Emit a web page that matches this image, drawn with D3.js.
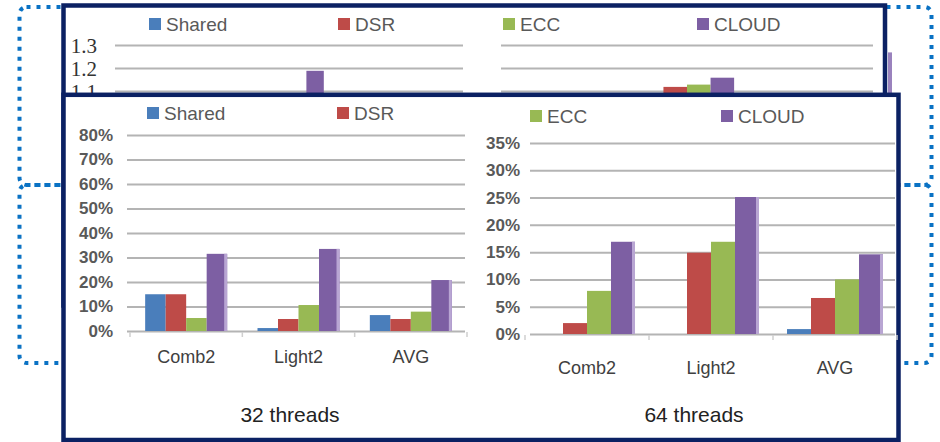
<!DOCTYPE html>
<html><head><meta charset="utf-8">
<script src="https://cdn.jsdelivr.net/npm/d3@7"></script>
<style>html,body{margin:0;padding:0;background:#fff;overflow:hidden}svg{display:block}</style>
</head><body>
<script>
// ---- data ----
const categories = ["Comb2", "Light2", "AVG"];
const seriesNames = ["Shared", "DSR", "ECC", "CLOUD"];
const seriesColors = ["#4a7ebb", "#be4b48", "#98b954", "#7d5fa3"];

// overhead in %, 32 threads
const shared32 = [15, 1.2, 6.5];
const dsr32 = [15, 4.9, 4.9];
const ecc32 = [5.3, 10.6, 7.9];
const cloud32 = [31.5, 33.5, 20.8];
// overhead in %, 64 threads
const shared64 = [0, 0, 0.9];
const dsr64 = [2, 14.9, 6.6];
const ecc64 = [7.9, 16.9, 10];
const cloud64 = [16.9, 25.1, 14.6];

const ticks32 = [0, 10, 20, 30, 40, 50, 60, 70, 80];
const ticks64 = [0, 5, 10, 15, 20, 25, 30, 35];
const panelTitles = ["32 threads", "64 threads"];

// slide underneath: normalized chart, only its top part shows
const backTicks = [1.1, 1.2, 1.3];
const backLeftCloud = [null, 1.19, null];
const backRightDsr = [null, 1.12, null];
const backRightEcc = [null, 1.13, null];
const backRightCloud = [null, 1.16, null];
const backEdgeCloud = [1.27];

// ---- drawing ----
const W = 940, H = 442;
const NAVY = "#0b2163", DOT = "#0a72c4", GRID = "#b4b4b4", TXT = "#595959";
const svg = d3.select("body").append("svg").attr("width", W).attr("height", H);

// dotted callout frames
function dotted(x0, y0, x1, y1) {
  svg.append("rect")
    .attr("x", x0).attr("y", y0).attr("width", x1 - x0).attr("height", y1 - y0)
    .attr("rx", 7).attr("fill", "none")
    .attr("stroke", DOT).attr("stroke-width", 4).attr("stroke-dasharray", "4 6");
}
dotted(19.5, 7, 931.5, 185);
dotted(19.5, 185, 931.5, 363);

function legend(g, items) {
  items.forEach(it => {
    g.append("rect").attr("x", it.x).attr("y", it.y - 6).attr("width", 12).attr("height", 12)
      .attr("fill", it.color);
    g.append("text").attr("x", it.x + 17).attr("y", it.y)
      .attr("dominant-baseline", "central")
      .attr("font-family", "Liberation Sans, Arial, sans-serif").attr("font-size", 19)
      .attr("fill", TXT).text(it.name);
  });
}

// ---------- back panel ----------
const back = svg.append("g");
back.append("rect").attr("x", 63.5).attr("y", 5.5).attr("width", 821.5).attr("height", 300)
  .attr("fill", "#fff").attr("stroke", NAVY).attr("stroke-width", 4.5);

// a sliver of another chart peeking out on the right
const yBack = d3.scaleLinear().domain([1.1, 1.3]).range([91.5, 45.5]);
back.selectAll("rect.edge").data(backEdgeCloud).join("rect").attr("class", "edge")
  .attr("x", 888).attr("width", 4).attr("y", d => yBack(d)).attr("height", d => yBack(1.0) - yBack(d))
  .attr("fill", "#9a82bd");

legend(back, [
  {x: 149, y: 24, name: seriesNames[0], color: seriesColors[0]},
  {x: 338, y: 24, name: seriesNames[1], color: seriesColors[1]},
  {x: 503, y: 24, name: seriesNames[2], color: seriesColors[2]},
  {x: 697, y: 24, name: seriesNames[3], color: seriesColors[3]}
]);

function backChart(x0, x1, pad, seriesVals, withLabels) {
  const g = back.append("g");
  g.selectAll("line").data(backTicks).join("line")
    .attr("x1", x0).attr("x2", x1).attr("y1", d => yBack(d)).attr("y2", d => yBack(d))
    .attr("stroke", GRID).attr("stroke-width", 2);
  if (withLabels) {
    g.selectAll("text").data(backTicks).join("text")
      .attr("x", 97).attr("y", d => yBack(d)).attr("text-anchor", "end")
      .attr("dominant-baseline", "central")
      .attr("font-family", "Liberation Serif, serif").attr("font-size", 21)
      .attr("fill", "#333").text(d => d.toFixed(1));
  }
  const xb = d3.scaleBand().domain(categories).range([x0, x1]).paddingInner(pad).paddingOuter(pad / 2);
  const xs = d3.scaleBand().domain(seriesNames).range([0, xb.bandwidth()]);
  seriesVals.forEach(sv => {
    g.append("g").selectAll("rect").data(sv.vals.map((v, i) => ({c: categories[i], v})).filter(d => d.v != null))
      .join("rect")
      .attr("x", d => xb(d.c) + xs(sv.name)).attr("width", xs.bandwidth())
      .attr("y", d => yBack(d.v)).attr("height", d => yBack(1.0) - yBack(d.v))
      .attr("fill", seriesColors[seriesNames.indexOf(sv.name)]);
  });
}
backChart(115, 463, 0.4, [{name: "CLOUD", vals: backLeftCloud}], true);
backChart(501, 873, 0.24, [
  {name: "DSR", vals: backRightDsr},
  {name: "ECC", vals: backRightEcc},
  {name: "CLOUD", vals: backRightCloud}
], false);

// ---------- front panel ----------
const front = svg.append("g");
front.append("rect").attr("x", 63.5).attr("y", 94.8).attr("width", 835).attr("height", 345.2)
  .attr("fill", "#fff").attr("stroke", NAVY).attr("stroke-width", 4.5);

legend(front, [
  {x: 147, y: 113, name: seriesNames[0], color: seriesColors[0]},
  {x: 337, y: 113, name: seriesNames[1], color: seriesColors[1]},
  {x: 530, y: 116, name: seriesNames[2], color: seriesColors[2]},
  {x: 721, y: 116, name: seriesNames[3], color: seriesColors[3]}
]);

function barChart(opt) {
  const g = front.append("g");
  const y = d3.scaleLinear().domain([0, opt.max]).range([opt.y0, opt.y1]);
  const yAxis = d3.axisLeft(y).tickValues(opt.ticks).tickSize(-(opt.gx1 - opt.gx0))
    .tickPadding(opt.labelPad).tickFormat(d => d + "%");
  const ax = g.append("g").attr("transform", `translate(${opt.gx0},0)`).call(yAxis);
  ax.select(".domain").remove();
  ax.selectAll(".tick line").attr("stroke", GRID).attr("stroke-width", 2);
  ax.selectAll(".tick text").attr("font-family", "Liberation Sans, Arial, sans-serif")
    .attr("font-size", 17).attr("font-weight", "bold").attr("fill", TXT);

  const xb = d3.scaleBand().domain(categories).range([opt.bx0, opt.bx1])
    .paddingInner(opt.pad).paddingOuter(opt.pad / 2);
  const xs = d3.scaleBand().domain(seriesNames).range([0, xb.bandwidth()]);

  // small category ticks below the baseline
  const edges = categories.map(c => xb(c) - xb.step() * opt.pad / 2).concat([opt.bx1]);
  g.selectAll("line.ct").data(edges).join("line").attr("class", "ct")
    .attr("x1", d => d).attr("x2", d => d).attr("y1", opt.y0 + 1).attr("y2", opt.y0 + 6)
    .attr("stroke", "#cfcfcf").attr("stroke-width", 1.5);

  opt.series.forEach((vals, si) => {
    const name = seriesNames[si];
    const rows = vals.map((v, i) => ({c: categories[i], v})).filter(d => d.v > 0);
    g.append("g").selectAll("rect").data(rows).join("rect")
      .attr("x", d => xb(d.c) + xs(name)).attr("width", xs.bandwidth())
      .attr("y", d => y(d.v)).attr("height", d => y(0) - y(d.v))
      .attr("fill", seriesColors[si]);
    if (name === "CLOUD") {
      g.append("g").selectAll("rect").data(rows).join("rect")
        .attr("x", d => xb(d.c) + xs(name) + xs.bandwidth() - 3).attr("width", 3)
        .attr("y", d => y(d.v)).attr("height", d => y(0) - y(d.v))
        .attr("fill", "#b9a6d3");
    }
  });

  g.selectAll("text.cat").data(categories).join("text").attr("class", "cat")
    .attr("x", d => xb(d) + xb.bandwidth() / 2).attr("y", opt.catY)
    .attr("text-anchor", "middle").attr("dominant-baseline", "central")
    .attr("font-family", "Liberation Sans, Arial, sans-serif").attr("font-size", 18)
    .attr("fill", "#404040").text(d => d);

  g.append("text").attr("x", opt.titleX).attr("y", 414)
    .attr("text-anchor", "middle").attr("dominant-baseline", "central")
    .attr("font-family", "Liberation Sans, Arial, sans-serif").attr("font-size", 21)
    .attr("fill", "#222").text(opt.title);
}

barChart({
  max: 80, ticks: ticks32, y0: 331, y1: 135, gx0: 127, gx1: 465, labelPad: 14,
  bx0: 130, bx1: 467, pad: 0.27,
  series: [shared32, dsr32, ecc32, cloud32],
  catY: 357, title: panelTitles[0], titleX: 290
});
barChart({
  max: 35, ticks: ticks64, y0: 334, y1: 143, gx0: 530, gx1: 895, labelPad: 10,
  bx0: 525, bx1: 897, pad: 0.226,
  series: [shared64, dsr64, ecc64, cloud64],
  catY: 368, title: panelTitles[1], titleX: 694
});
</script>
</body></html>
